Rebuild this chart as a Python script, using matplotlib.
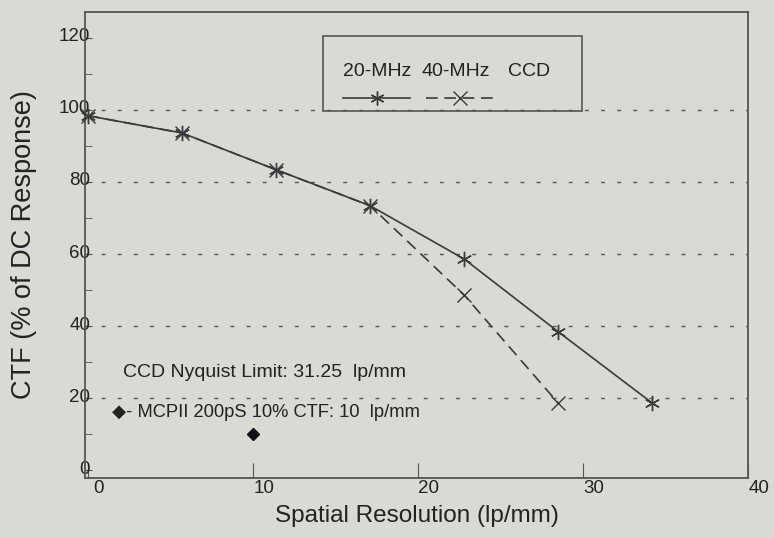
import matplotlib
matplotlib.use("Agg")
import matplotlib.pyplot as plt
import matplotlib.transforms as mtransforms
from matplotlib.lines import Line2D
from matplotlib.patches import Rectangle

# ---- data ----
x_20mhz = [0.0, 5.7, 11.4, 17.1, 22.8, 28.5, 34.2]
y_20mhz = [98.4, 93.6, 83.4, 73.4, 58.6, 38.4, 18.6]
x_40mhz = [0.0, 5.7, 11.4, 17.1, 22.8, 28.5]
y_40mhz = [98.4, 93.6, 83.4, 73.4, 48.6, 18.6]
x_mcp = [10.0]
y_mcp = [10.0]
xticks = [0, 10, 20, 30, 40]
yticks = [0, 20, 40, 60, 80, 100, 120]
grid_levels = [20, 40, 60, 80, 100]
legend_names = ["20-MHz", "40-MHz", "CCD"]
note1 = "CCD Nyquist Limit: 31.25  lp/mm"
note2 = "\u25c6- MCPII 200pS 10% CTF: 10  lp/mm"

FONT = ["Liberation Sans Narrow", "Liberation Sans", "DejaVu Sans"]
plt.rcParams["font.family"] = FONT
BG = "#d9dad4"
INK = "#222222"
LINE = "#3a3a3a"

fig = plt.figure(figsize=(7.74, 5.38), dpi=100, facecolor=BG)
ax = fig.add_axes([85/774, 60/538, (748-85)/774, (478-12)/538])
ax.set_facecolor(BG)
ax.set_xlim(-0.18, 40)
ax.set_ylim(-2.2, 127.2)

for g in grid_levels:
    ax.axhline(g, color="#555555", lw=1.0, ls=(0, (2.8, 8.8)), zorder=1)

ax.plot(x_20mhz, y_20mhz, color=LINE, lw=1.2, marker=(6, 2, 0), ms=11,
        mew=1.0, mec=LINE, zorder=3, clip_on=False)
ax.plot(x_40mhz, y_40mhz, color=LINE, lw=1.2, ls=(0, (7, 4)), marker="x",
        ms=10, mew=1.0, mec=LINE, zorder=3, clip_on=False)
ax.plot(x_mcp, y_mcp, ls="none", marker="D", ms=6.5, color="#111111", zorder=3)

for s in ax.spines.values():
    s.set_color("#555555")
    s.set_linewidth(1.3)

ax.set_xticks(xticks)
ax.set_yticks(yticks)
ax.set_xticklabels([str(v) for v in xticks])
ax.set_yticklabels([str(v) for v in yticks])
ax.set_yticks([10, 30, 50, 70, 90, 110], minor=True)
ax.tick_params(axis="both", which="major", direction="in", length=0,
               labelsize=13.5, colors=INK, pad=2)
ax.tick_params(axis="x", which="major", length=11, color="#555555")
ax.tick_params(axis="y", which="minor", direction="in", length=5, color="#555555")
ax.tick_params(axis="y", which="major", length=5, color="#555555")

off_y = mtransforms.ScaledTranslation(8/100, 3/100, fig.dpi_scale_trans)
for lbl in ax.get_yticklabels():
    lbl.set_transform(lbl.get_transform() + off_y)
off_x = mtransforms.ScaledTranslation(11/100, 1/100, fig.dpi_scale_trans)
for lbl in ax.get_xticklabels():
    lbl.set_transform(lbl.get_transform() + off_x)

ax.set_xlabel("Spatial Resolution (lp/mm)", fontsize=17.5, color=INK, labelpad=6)
ax.set_ylabel("CTF (% of DC Response)", fontsize=19.5, color=INK, labelpad=16)

# notes
ax.text(0.0572, 0.227, note1, transform=ax.transAxes, fontsize=14,
        color=INK, va="center", ha="left")
ax.text(0.040, 0.141, note2, transform=ax.transAxes, fontsize=13.2,
        color=INK, va="center", ha="left", family=FONT)

# legend box (axes fraction)
def fx(px):
    return (px - 85) / (748 - 85)

def fy(py):
    return (478 - py) / (478 - 12)

ax.add_patch(Rectangle((fx(323), fy(111)), fx(582) - fx(323), fy(36) - fy(111),
                       transform=ax.transAxes, fill=False, ec="#555555", lw=1.2,
                       zorder=4))
ax.text(fx(343), fy(71), legend_names[0], transform=ax.transAxes, fontsize=14,
        color=INK, va="center", ha="left", zorder=5)
ax.text(fx(421), fy(71), legend_names[1], transform=ax.transAxes, fontsize=14,
        color=INK, va="center", ha="left", zorder=5)
ax.text(fx(508), fy(71), legend_names[2], transform=ax.transAxes, fontsize=14,
        color=INK, va="center", ha="left", zorder=5)
ax.add_line(Line2D([fx(343), fx(410)], [fy(98), fy(98)], transform=ax.transAxes,
                   color=LINE, lw=1.2, zorder=5))
ax.add_line(Line2D([fx(377)], [fy(98)], transform=ax.transAxes, ls="none",
                   marker=(6, 2, 0), ms=10, mec=LINE, mew=1.0, zorder=5))
ax.add_line(Line2D([fx(426), fx(493)], [fy(98), fy(98)], transform=ax.transAxes,
                   color=LINE, lw=1.2, ls=(0, (7, 4)), zorder=5))
ax.add_line(Line2D([fx(460)], [fy(98)], transform=ax.transAxes, ls="none",
                   marker="x", ms=10, mec=LINE, mew=1.0, zorder=5))

fig.savefig("out.png", dpi=100, facecolor=BG)
